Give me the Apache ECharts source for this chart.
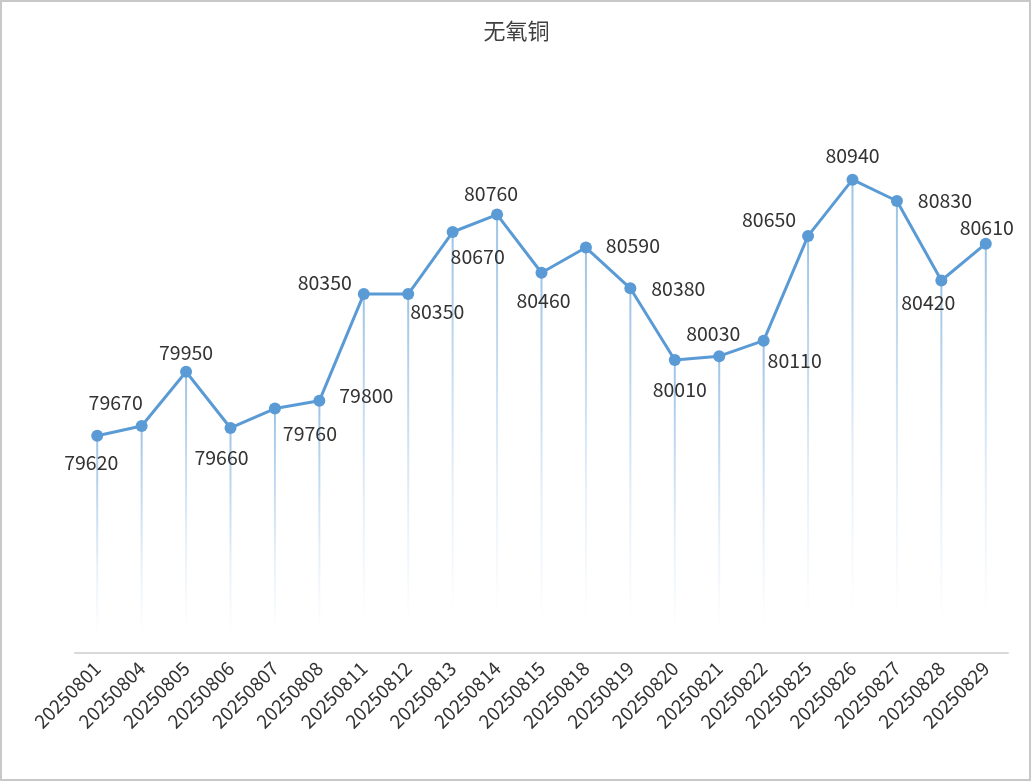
<!DOCTYPE html>
<html>
<head>
<meta charset="utf-8">
<script src="https://cdn.jsdelivr.net/npm/echarts@6/dist/echarts.min.js"></script>
<style>
html,body{margin:0;padding:0;background:#fff;}
#chart{position:absolute;left:0;top:0;width:1033px;height:784px;}
#frame{position:absolute;left:0;top:0;width:1031px;height:781px;box-sizing:border-box;border:2px solid #c8c8c8;pointer-events:none;}
</style>
</head>
<body>
<div id="chart"></div>
<div id="frame"></div>
<script>
const title = '无氧铜';
const dates = ['20250801','20250804','20250805','20250806','20250807','20250808','20250811','20250812','20250813','20250814','20250815','20250818','20250819','20250820','20250821','20250822','20250825','20250826','20250827','20250828','20250829'];
const prices = [79620,79670,79950,79660,79760,79800,80350,80350,80670,80760,80460,80590,80380,80010,80030,80110,80650,80940,80830,80420,80610];
// label placement offsets (layout only)
const labelOffsets = [[-6,27],[-26,-23],[0,-19],[-9,30],[35,25],[47,-5],[-39,-12],[29,17],[25,25],[-6,-21],[2,28],[47,-2],[48,0],[5,30],[-6,-23],[31,20],[-39,-16],[0,-24],[48,0],[-13,22],[1,-16]];

const font = '"Noto Sans CJK SC","Noto Sans",sans-serif';
const chart = echarts.init(document.getElementById('chart'));
const lineData = prices.map((v,i)=>({
  value: v,
  label: {offset: labelOffsets[i]}
}));
chart.setOption({
  animation: false,
  backgroundColor: '#fff',
  title: {
    text: title, left: 'center', top: 15,
    textStyle: {fontSize: 22, fontWeight: 'normal', color: '#404040', fontFamily: font}
  },
  grid: {left: 75, right: 25, top: 71, bottom: 131, containLabel: false},
  xAxis: {
    type: 'category', data: dates, boundaryGap: true,
    axisLine: {lineStyle: {color: '#d9d9d9', width: 2}},
    axisTick: {show: false},
    axisLabel: {rotate: 45, fontSize: 19, color: '#333', margin: 12, fontFamily: font}
  },
  yAxis: {
    type: 'value', min: 78500, max: 81500, show: false,
    splitLine: {show: false}
  },
  series: [
    {
      type: 'bar', data: prices, barWidth: 2, silent: true, z: 1,
      itemStyle: {color: new echarts.graphic.LinearGradient(0,0,0,1,[
        {offset: 0, color: 'rgba(91,155,213,0.6)'},
        {offset: 0.6, color: 'rgba(91,155,213,0.15)'},
        {offset: 0.92, color: 'rgba(91,155,213,0)'},
        {offset: 1, color: 'rgba(91,155,213,0)'}
      ])}
    },
    {
      type: 'line', data: lineData, z: 3,
      symbol: 'circle', symbolSize: 12,
      lineStyle: {color: '#5b9bd5', width: 3},
      itemStyle: {color: '#5b9bd5'},
      label: {show: true, position: 'inside', align: 'center', verticalAlign: 'middle',
        fontSize: 19.5, color: '#333', fontFamily: font}
    }
  ]
});
</script>
</body>
</html>
